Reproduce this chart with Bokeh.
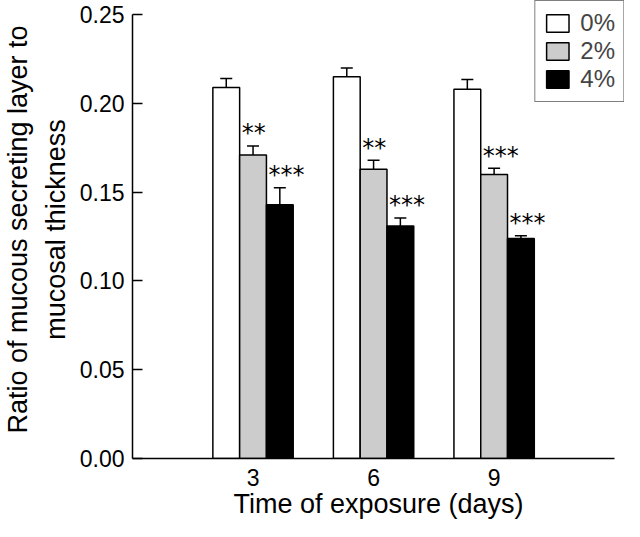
from bokeh.plotting import figure
from bokeh.models import (ColumnDataSource, FixedTicker, Whisker, TeeHead, Legend,
                          LegendItem, Range1d, NumeralTickFormatter)
from bokeh.core.properties import value
from bokeh.embed import file_html
from bokeh.resources import INLINE

# ---- data ----
days = [3, 6, 9]
day_labels = ["3", "6", "9"]
series_names = ["0%", "2%", "4%"]
mean_0 = [0.209, 0.215, 0.208]
err_0 = [0.005, 0.005, 0.0055]
mean_2 = [0.171, 0.163, 0.160]
err_2 = [0.005, 0.005, 0.0035]
mean_4 = [0.143, 0.131, 0.124]
err_4 = [0.0095, 0.0045, 0.0015]
stars_0 = ["", "", ""]
stars_2 = ["**", "**", "***"]
stars_4 = ["***", "***", "***"]
y_ticks = [0.0, 0.05, 0.10, 0.15, 0.20, 0.25]

FONT = "Liberation Sans"
BAR_W = 2 / 3
offsets = [-BAR_W, 0.0, BAR_W]
fills = ["white", "#cccccc", "black"]
STAR_GAP = 0.010

p = figure(width=624, height=521, x_range=Range1d(0, 12.245), y_range=Range1d(0, 0.258),
           output_backend="svg", toolbar_location=None,
           min_border_left=124, min_border_right=0, min_border_top=0, min_border_bottom=0)
p.outline_line_color = None
p.grid.grid_line_color = None
p.background_fill_color = "white"
p.border_fill_color = "white"

renderers = []
for name, means, errs, stars, off, fill in zip(series_names, [mean_0, mean_2, mean_4],
                                                [err_0, err_2, err_4],
                                                [stars_0, stars_2, stars_4], offsets, fills):
    xs = [d + off for d in days]
    uppers = [m + e for m, e in zip(means, errs)]
    src = ColumnDataSource(dict(
        x=xs, top=means, upper=uppers,
        star=stars, star_x=[x - BAR_W / 2 for x in xs],
        star_y=[u + STAR_GAP for u in uppers]))
    w = Whisker(source=src, base="x", lower="top", upper="upper", dimension="height",
                lower_head=None,
                upper_head=TeeHead(size=12, line_width=1.5, line_color="black"),
                line_width=1.5, line_color="black")
    p.add_layout(w)
    r = p.vbar(x="x", top="top", bottom=0, width=BAR_W, source=src,
               fill_color=fill, line_color="black", line_width=1.5)
    renderers.append(r)
    p.text(x="star_x", y="star_y", text="star", source=src,
           text_font=value("DejaVu Sans"), text_font_size="24px",
           text_align="left", text_baseline="middle", x_offset=2, y_offset=5,
           text_color="black")

legend = Legend(items=[LegendItem(label=n, renderers=[r]) for n, r in zip(series_names, renderers)],
                location="top_right", orientation="vertical",
                border_line_color="black", border_line_width=1.5,
                background_fill_color="white", background_fill_alpha=1.0,
                padding=8, spacing=0, margin=0,
                glyph_width=28, glyph_height=22, label_height=22,
                label_standoff=9, label_text_font=FONT, label_text_font_size="24px")
p.add_layout(legend, "center")

# axes
p.xaxis.ticker = FixedTicker(ticks=days)
p.xaxis.major_label_overrides = {d: lbl for d, lbl in zip(days, day_labels)}
p.xaxis.bounds = (0, 12)
p.xaxis.major_tick_in = 0
p.xaxis.major_tick_out = 0
p.xaxis.minor_tick_line_color = None
p.xaxis.axis_label = "Time of exposure (days)"
p.xaxis.major_label_standoff = 10
p.xaxis.axis_label_standoff = 0

p.yaxis.ticker = FixedTicker(ticks=y_ticks)
p.yaxis.formatter = NumeralTickFormatter(format="0.00")
p.yaxis.bounds = (0, 0.25)
p.yaxis.major_tick_in = 10
p.yaxis.major_tick_out = 0
p.yaxis.minor_tick_line_color = None
p.yaxis.axis_label = "Ratio of mucous secreting layer to\nmucosal thickness"
p.yaxis.major_label_standoff = 8
p.yaxis.axis_label_standoff = 6

for ax in (p.xaxis, p.yaxis):
    ax.axis_line_color = "black"
    ax.axis_line_width = 1.5
    ax.major_tick_line_color = "black"
    ax.major_tick_line_width = 1.5
    ax.major_label_text_font = FONT
    ax.major_label_text_font_size = "23px"
    ax.major_label_text_color = "black"
    ax.axis_label_text_font = FONT
    ax.axis_label_text_font_size = "27px"
    ax.axis_label_text_font_style = "normal"
    ax.axis_label_text_color = "black"
p.yaxis.axis_label_text_line_height = 1.25

open("out.html", "w").write(file_html(p, INLINE))
